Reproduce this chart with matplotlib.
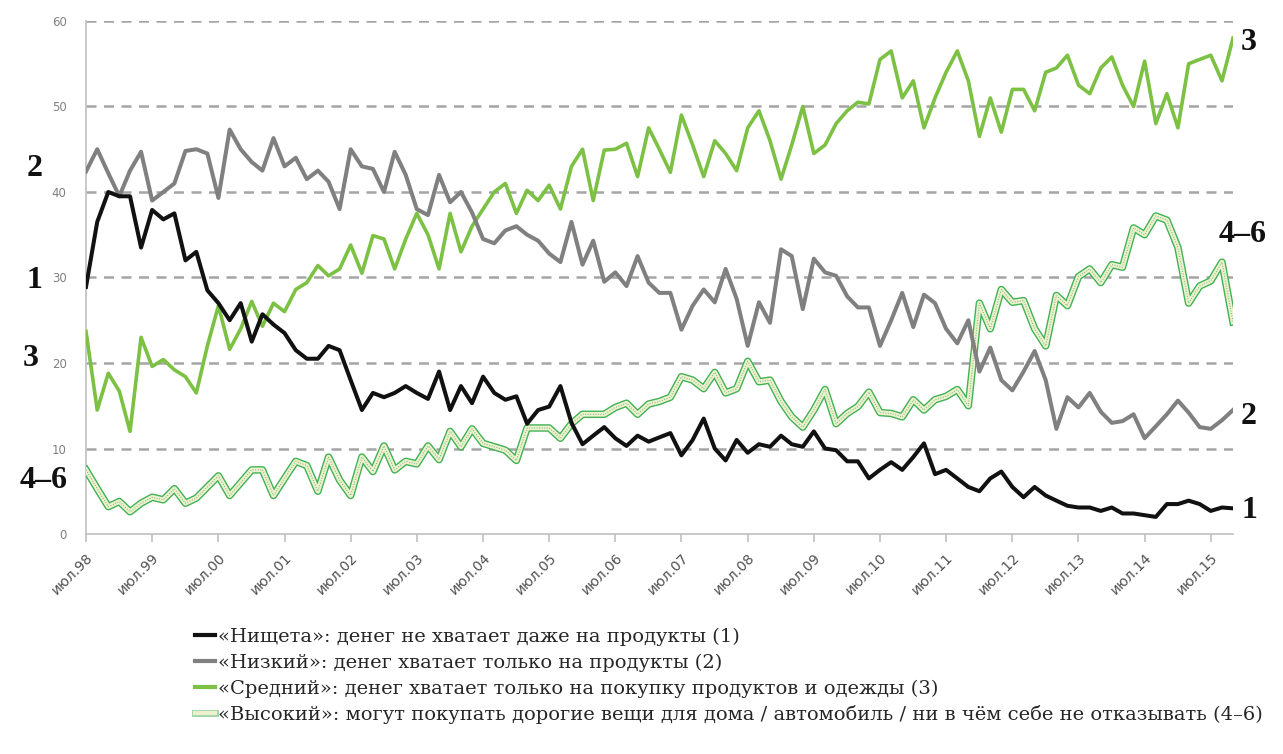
import matplotlib
matplotlib.use('Agg')
import matplotlib.pyplot as plt
import matplotlib.dates as mdates
import matplotlib.patheffects as pe
from matplotlib.lines import Line2D
from matplotlib.ticker import FixedLocator
import pandas as pd

# ---------------- data (bi-monthly readings, Jul 1998 - Nov 2015) ----------------
dates = pd.date_range('1998-07-01', periods=105, freq='2MS')

poverty = [28.9, 36.5, 40.0, 39.5, 39.5, 33.5, 37.9, 36.8, 37.5, 32.0, 33.0, 28.5, 27.0, 25.0, 27.0, 22.5, 25.7, 24.5, 23.5, 21.5, 20.5, 20.5,
           22.0, 21.5, 18.0, 14.5, 16.5, 16.0, 16.5, 17.3, 16.5, 15.8, 19.0, 14.5, 17.3, 15.3, 18.4, 16.5, 15.7, 16.1, 12.9, 14.5, 14.9,
           17.3, 13.0, 10.5, 11.5, 12.5, 11.2, 10.3, 11.5, 10.8, 11.3, 11.8, 9.2, 11.0, 13.5, 10.0, 8.6, 11.0, 9.5, 10.5, 10.2, 11.5,
           10.5, 10.2, 12.0, 10.0, 9.8, 8.5, 8.5, 6.5, 7.5, 8.4, 7.5, 9.0, 10.6, 7.0, 7.5, 6.5, 5.5, 5.0, 6.5, 7.3, 5.5,
           4.3, 5.5, 4.5, 3.9, 3.3, 3.1, 3.1, 2.7, 3.1, 2.4, 2.4, 2.2, 2.0, 3.5, 3.5, 3.9, 3.5, 2.7, 3.1, 3.0]

low = [42.4, 45.0, 42.2, 39.5, 42.5, 44.7, 39.0, 40.0, 41.0, 44.8, 45.0, 44.5, 39.3, 47.3, 45.0, 43.5, 42.5, 46.3, 43.0, 44.0, 41.5, 42.5,
       41.2, 38.0, 45.0, 43.0, 42.7, 40.0, 44.7, 42.0, 38.0, 37.3, 42.0, 38.8, 40.0, 37.6, 34.5, 34.0, 35.5, 36.0, 35.0, 34.3, 32.8,
       31.8, 36.5, 31.5, 34.3, 29.5, 30.6, 29.0, 32.5, 29.4, 28.2, 28.2, 23.9, 26.7, 28.6, 27.1, 31.0, 27.5, 22.0, 27.1, 24.7, 33.3,
       32.5, 26.3, 32.2, 30.6, 30.2, 27.8, 26.5, 26.5, 22.0, 25.0, 28.2, 24.2, 28.0, 27.0, 24.0, 22.3, 25.0, 19.0, 21.8, 18.0, 16.8,
       19.0, 21.4, 18.0, 12.3, 16.0, 14.8, 16.5, 14.3, 13.0, 13.2, 14.0, 11.2, 12.6, 14.0, 15.6, 14.2, 12.5, 12.3, 13.3, 14.5]

middle = [23.7, 14.5, 18.8, 16.7, 12.0, 23.0, 19.6, 20.4, 19.2, 18.4, 16.5, 22.0, 26.7, 21.6, 24.0, 27.2, 24.3, 27.0, 26.0, 28.6, 29.4, 31.4,
          30.2, 31.0, 33.8, 30.5, 34.9, 34.5, 31.0, 34.5, 37.5, 35.0, 31.0, 37.5, 33.0, 36.0, 38.0, 40.0, 41.0, 37.5, 40.2, 39.0, 40.8,
          38.0, 43.0, 45.0, 39.0, 44.9, 45.0, 45.7, 41.8, 47.5, 45.0, 42.3, 49.0, 45.5, 41.8, 46.0, 44.5, 42.5, 47.5, 49.5, 46.0, 41.5,
          45.5, 50.0, 44.5, 45.5, 48.0, 49.5, 50.5, 50.3, 55.5, 56.5, 51.0, 53.0, 47.5, 51.0, 54.0, 56.5, 53.0, 46.5, 51.0, 47.0, 52.0,
          52.0, 49.5, 54.0, 54.5, 56.0, 52.5, 51.5, 54.5, 55.8, 52.5, 50.0, 55.3, 48.0, 51.5, 47.5, 55.0, 55.5, 56.0, 53.0, 58.0]

high = [7.5, 5.3, 3.2, 3.8, 2.6, 3.6, 4.3, 4.0, 5.3, 3.6, 4.2, 5.5, 6.8, 4.5, 6.0, 7.5, 7.5, 4.5, 6.5, 8.5, 8.0, 5.0,
        9.0, 6.3, 4.5, 9.0, 7.3, 10.3, 7.5, 8.5, 8.2, 10.3, 8.7, 12.0, 10.2, 12.3, 10.6, 10.2, 9.8, 8.6, 12.4, 12.4, 12.4,
        11.2, 12.9, 14.0, 14.0, 14.0, 14.8, 15.3, 14.0, 15.2, 15.5, 16.0, 18.4, 18.0, 17.0, 18.9, 16.5, 17.0, 20.2, 17.8, 18.0, 15.5,
        13.7, 12.5, 14.5, 16.9, 12.9, 14.1, 14.9, 16.6, 14.2, 14.1, 13.7, 15.7, 14.5, 15.7, 16.1, 16.9, 15.0, 27.0, 24.0, 28.6, 27.1,
        27.3, 24.0, 22.0, 27.9, 26.7, 30.1, 31.0, 29.4, 31.5, 31.2, 35.8, 35.0, 37.2, 36.7, 33.5, 27.0, 29.0, 29.6, 31.8, 24.8]

tick_years = list(range(1998, 2016))
tick_labels = ['июл.%02d' % (y % 100) for y in tick_years]
y_ticks = [0, 10, 20, 30, 40, 50, 60]

legend_labels = ['«Нищета»: денег не хватает даже на продукты (1)',
                 '«Низкий»: денег хватает только на продукты (2)',
                 '«Средний»: денег хватает только на покупку продуктов и одежды (3)',
                 '«Высокий»: могут покупать дорогие вещи для дома / автомобиль / ни в чём себе не отказывать (4–6)']
left_marks = [('2', 35, 168), ('1', 34, 281), ('3', 31, 358), ('4–6', 44, 480)]
right_marks = [('3', 1249, 43), ('4–6', 1243, 234), ('2', 1249, 417), ('1', 1249, 510)]

# ---------------- style ----------------
C_BLACK = '#111111'
C_GRAY = '#808080'
C_GREEN = '#7cc143'
C_HI_EDGE = '#3fb353'
C_HI_FILL = '#efefd0'

W, H = 1283, 754
fig = plt.figure(figsize=(W / 100, H / 100), dpi=100)
ax = fig.add_axes([86 / W, (H - 534) / H, (1233 - 86) / W, (534 - 21) / H])

hi_effects = [pe.Stroke(linewidth=5.4, foreground=C_HI_EDGE), pe.Normal()]
ax.plot(dates, high, color=C_HI_FILL, lw=3.4, solid_joinstyle='round', path_effects=hi_effects, zorder=3)
ax.plot(dates, high, color='#5cbf6c', lw=0.7, ls=(0, (1, 1.6)), zorder=3.1)
ax.plot(dates, middle, color=C_GREEN, lw=2.6, solid_joinstyle='round', zorder=4)
ax.plot(dates, low, color=C_GRAY, lw=2.9, solid_joinstyle='round', zorder=5)
ax.plot(dates, poverty, color=C_BLACK, lw=2.9, solid_joinstyle='round', zorder=6)

ax.set_xlim(dates[0], dates[-1])
ax.set_ylim(0, 60)

# grid lines
for yv in y_ticks[1:]:
    ax.axhline(yv, color='#a5a5a5', lw=1.8, ls=(0, (4, 3)), zorder=1)

for s in ['top', 'right']:
    ax.spines[s].set_visible(False)
for s in ['left', 'bottom']:
    ax.spines[s].set_color('#c0c0c0')
    ax.spines[s].set_linewidth(1.2)

tick_pos = [mdates.date2num(pd.Timestamp(year=y, month=7, day=1)) for y in tick_years]
ax.xaxis.set_major_locator(FixedLocator(tick_pos))
ax.set_xticklabels(tick_labels, rotation=45, ha='right', rotation_mode='anchor',
                   fontsize=10, color='#505050')
ax.tick_params(axis='x', direction='out', length=6, width=1.2, color='#c0c0c0', pad=6)
ax.set_yticks(y_ticks)
ax.set_yticklabels([str(v) for v in y_ticks], fontsize=8.5, color='#808080')
ax.tick_params(axis='y', length=0, pad=14)

# series labels
for txt, x, y in left_marks + right_marks:
    fig.text(x / W, 1 - y / H, txt, ha='center', va='center', fontsize=23,
             fontweight='bold', family='Liberation Serif', color='#111111')

# legend
handles = [Line2D([], [], color=C_BLACK, lw=3),
           Line2D([], [], color=C_GRAY, lw=3),
           Line2D([], [], color=C_GREEN, lw=3),
           Line2D([], [], color=C_HI_FILL, lw=3, path_effects=[pe.Stroke(linewidth=5, foreground='#9fd6a6'), pe.Normal()])]
fig.legend(handles, legend_labels, loc='upper left', bbox_to_anchor=(195 / W, 1 - 628 / H),
           frameon=False, borderpad=0, borderaxespad=0, handlelength=1.05, handletextpad=0.15,
           labelspacing=0.38, labelcolor='#262626',
           prop={'family': 'DejaVu Serif', 'size': 14.0})

fig.savefig('out.png', dpi=100)
